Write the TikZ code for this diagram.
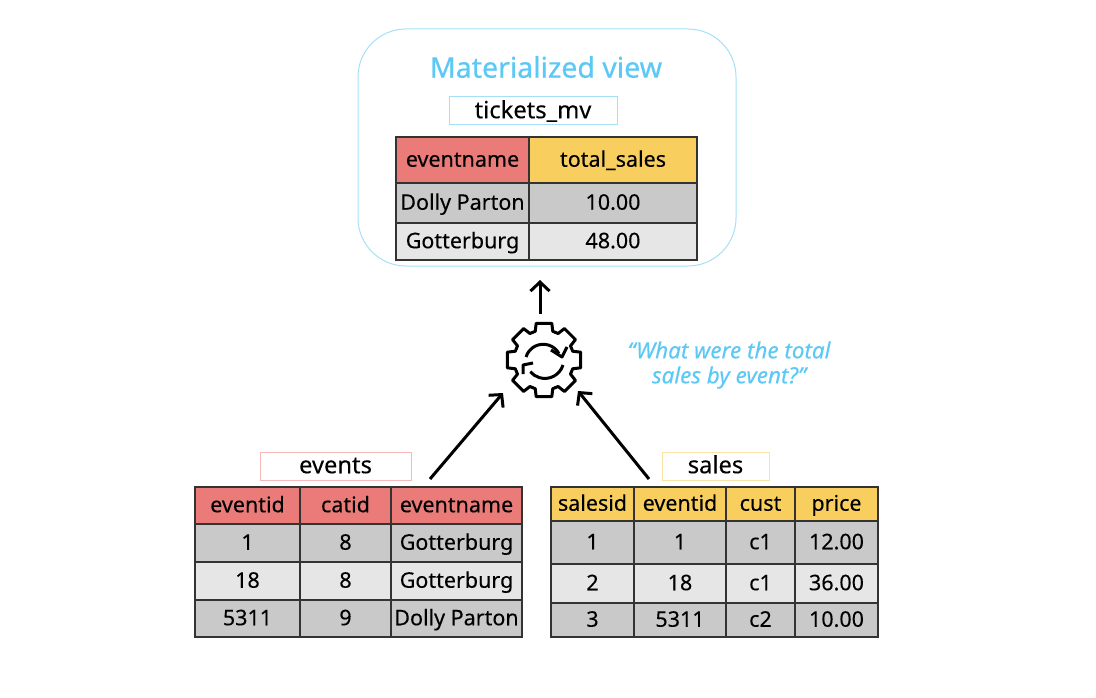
\documentclass[tikz,border=0pt]{standalone}
\usepackage{fontspec}
\setmainfont{Noto Sans}[FakeBold=0.2]
\usetikzlibrary{arrows.meta}
\definecolor{viewblue}{HTML}{5CC8F5}
\definecolor{viewedge}{HTML}{A5E0F8}
\definecolor{eventred}{HTML}{EA7B78}
\definecolor{eventedge}{HTML}{F6B8B8}
\definecolor{saleyellow}{HTML}{F8CF5E}
\definecolor{saleedge}{HTML}{FBE3A5}
\definecolor{rowdark}{HTML}{C9C9C9}
\definecolor{rowlight}{HTML}{E6E6E6}
\tikzset{
    cell/.style={draw=black!80,line width=1.2pt,inner sep=0pt,outer sep=0pt,anchor=north west,
        font=\fontsize{21.5}{24}\selectfont,text height=13.5pt,text depth=0pt},
    namebox/.style={draw,line width=1pt,inner sep=0pt,outer sep=0pt,minimum height=28pt,
        font=\fontsize{23.7}{28}\selectfont,text height=14.5pt,text depth=0pt},
    flow/.style={line width=3pt,-{Straight Barb[length=9pt,width=19pt]}},
}
\begin{document}
\begin{tikzpicture}[x=1pt,y=-1pt]
    \useasboundingbox (0,0) rectangle (1096,698);
    % materialized view
    \node[draw=viewedge,line width=1pt,rounded corners=48pt,minimum width=378pt,minimum height=237pt,inner sep=0pt,outer sep=0pt] (mv) at (547,147.5) {};
    \node[text=viewblue,font=\fontsize{28.5}{32}\selectfont\addfontfeature{FakeBold=0.6}] (mvtitle) at (546,67) {Materialized view};
    \node[namebox,draw=viewedge,minimum width=168pt] (mvname) at (533,111) {tickets\_mv};
    \foreach \r/\yy/\hh/\bga/\bgb/\first/\second in {
        0/137/46/eventred/saleyellow/eventname/total\_sales,
        1/183/40/rowdark/rowdark/Dolly Parton/10.00,
        2/223/37/rowlight/rowlight/Gotterburg/48.00} {
        \node[cell,fill=\bga,minimum width=133pt,minimum height=\hh pt] (mv\r a) at (396,\yy) {\first};
        \node[cell,fill=\bgb,minimum width=168pt,minimum height=\hh pt] (mv\r b) at (529,\yy) {\second};
    }
    % events table
    \node[namebox,draw=eventedge,minimum width=151pt] (evname) at (335.5,466) {events};
    \foreach \r/\yy/\hh/\bg/\first/\second/\third in {
        0/487/37/eventred/eventid/catid/eventname,
        1/524/38/rowdark/1/8/Gotterburg,
        2/562/38/rowlight/18/8/Gotterburg,
        3/600/37/rowdark/5311/9/Dolly Parton} {
        \node[cell,fill=\bg,minimum width=105pt,minimum height=\hh pt] (ev\r a) at (195,\yy) {\first};
        \node[cell,fill=\bg,minimum width=91pt,minimum height=\hh pt] (ev\r b) at (300,\yy) {\second};
        \node[cell,fill=\bg,minimum width=131pt,minimum height=\hh pt] (ev\r c) at (391,\yy) {\third};
    }
    % sales table
    \node[namebox,draw=saleedge,minimum width=107pt] (slname) at (715.5,466) {sales};
    \foreach \r/\yy/\hh/\bg/\first/\second/\third/\fourth in {
        0/487/34/saleyellow/salesid/eventid/cust/price,
        1/521/43/rowdark/1/1/c1/12.00,
        2/564/39/rowlight/2/18/c1/36.00,
        3/603/34/rowdark/3/5311/c2/10.00} {
        \node[cell,fill=\bg,minimum width=83pt,minimum height=\hh pt] (sl\r a) at (551,\yy) {\first};
        \node[cell,fill=\bg,minimum width=92pt,minimum height=\hh pt] (sl\r b) at (634,\yy) {\second};
        \node[cell,fill=\bg,minimum width=69pt,minimum height=\hh pt] (sl\r c) at (726,\yy) {\third};
        \node[cell,fill=\bg,minimum width=83pt,minimum height=\hh pt] (sl\r d) at (795,\yy) {\fourth};
    }
    % gear with refresh arrows
    \node[minimum size=76pt,inner sep=0pt] (gear) at (544,360) {};
    \begin{scope}[shift={(gear.center)},line width=3pt,line join=round]
        \draw (-17:30) \foreach \a in {0,45,...,315} {
            -- (\a-17:30) -- (\a-12:37.5) -- (\a+12:37.5) -- (\a+17:30)} -- cycle;
        \draw (-18,-3) arc[start angle=-163,end angle=-29,radius=18];
        \draw (7,-10) -- (18,-3) -- (23,-13);
        \draw (19,5) arc[start angle=17,end angle=140,radius=19];
        \draw (-11,3) -- (-21,5) -- (-21,14);
    \end{scope}
    % arrows
    \coordinate (mvin) at (540,280);
    \coordinate (mvout) at (540,314);
    \coordinate (evout) at (430,479);
    \coordinate (evin) at (503,393);
    \coordinate (slout) at (649,479);
    \coordinate (slin) at (578,391);
    \draw[flow] (mvout) -- (mvin);
    \draw[flow] (evout) -- (evin);
    \draw[flow] (slout) -- (slin);
    % question
    \node[text=viewblue,align=center,font=\fontsize{22.4}{25}\itshape] (question) at (729,365) {“What were the total\\sales by event?”};
\end{tikzpicture}
\end{document}
